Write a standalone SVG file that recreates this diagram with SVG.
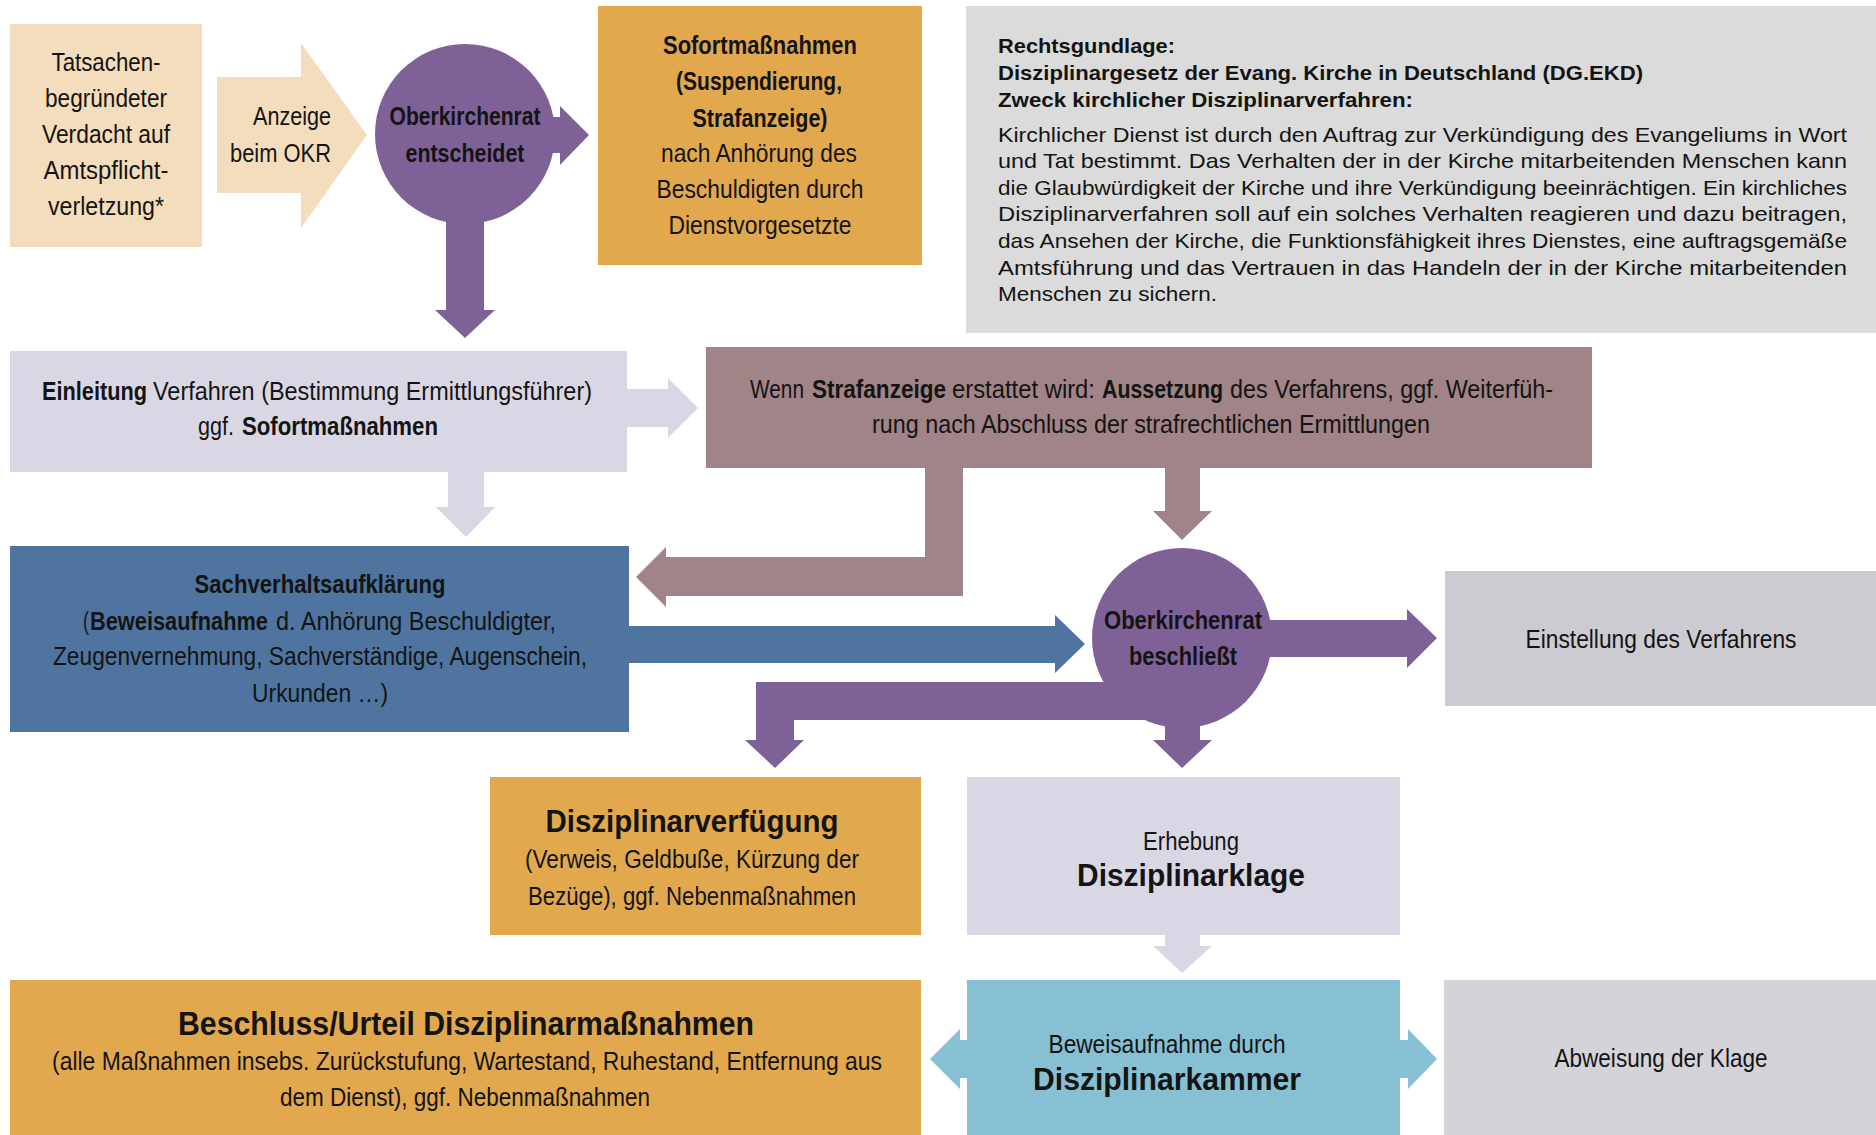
<svg xmlns="http://www.w3.org/2000/svg" width="1876" height="1135" viewBox="0 0 1876 1135">
<style>
text{font-family:"Liberation Sans",Arial,"DejaVu Sans Condensed",sans-serif;fill:#141414;font-size:25px}
.c{text-anchor:middle}
.e{text-anchor:end}
.b{font-weight:bold}
.i{font-size:21px}
.big{font-size:31px;font-weight:bold}
.peach{fill:#F4DDBC}
.purple{fill:#7E6197}
.gold{fill:#E1A84E}
.info{fill:#DADBDA}
.lav{fill:#DAD7E5}
.mauve{fill:#A08487}
.blue{fill:#4F74A0}
.grey1{fill:#CDCBD2}
.grey2{fill:#D5D3DA}
.lblue{fill:#88C0D3}
</style>
<rect width="1876" height="1135" fill="#ffffff"/>

<g id="connectors">
  <polygon class="peach" points="217,77 301,77 301,43 367,135 301,228 301,193 217,193"/>
  <polygon class="purple" points="540,117 560,117 560,106 589,135 560,165 560,153 540,153"/>
  <polygon class="purple" points="446,200 484,200 484,310 495,310 465,338 435,310 446,310"/>
  <polygon class="lav" points="627,389 668,389 668,378 698,408 668,438 668,427 627,427"/>
  <polygon class="lav" points="448,472 484,472 484,507 495,507 466,537 436,507 448,507"/>
  <polygon class="mauve" points="925,468 963,468 963,596 666,596 666,607 636,577 666,547 666,557 925,557"/>
  <polygon class="mauve" points="1165,468 1200,468 1200,511 1212,511 1182,540 1153,511 1165,511"/>
  <polygon class="blue" points="629,626 1055,626 1055,615 1085,644 1055,673 1055,663 629,663"/>
  <polygon class="purple" points="1250,620 1407,620 1407,609 1437,638 1407,668 1407,657 1250,657"/>
  <polygon class="purple" points="1160,682 1160,720 794,720 794,740 804,740 775,768 745,740 756,740 756,682"/>
  <polygon class="purple" points="1165,715 1200,715 1200,740 1212,740 1182,768 1153,740 1165,740"/>
  <polygon class="lav" points="1165,935 1200,935 1200,946 1212,946 1182,973 1153,946 1165,946"/>
  <polygon class="lblue" points="968,1040 960,1040 960,1029 930,1059 960,1089 960,1078 968,1078"/>
  <polygon class="lblue" points="1399,1040 1408,1040 1408,1029 1437,1059 1408,1089 1408,1078 1399,1078"/>
</g>

<g id="verdacht">
  <rect class="peach" x="10" y="24" width="192" height="223"/>
  <text class="c" x="106" y="71" textLength="109" lengthAdjust="spacingAndGlyphs">Tatsachen-</text>
  <text class="c" x="106" y="107" textLength="122" lengthAdjust="spacingAndGlyphs">begründeter</text>
  <text class="c" x="106" y="143" textLength="128" lengthAdjust="spacingAndGlyphs">Verdacht auf</text>
  <text class="c" x="106" y="179" textLength="125" lengthAdjust="spacingAndGlyphs">Amtspflicht-</text>
  <text class="c" x="106" y="215" textLength="116" lengthAdjust="spacingAndGlyphs">verletzung*</text>
</g>

<g id="anzeige">
  <text class="e" x="331" y="125" textLength="78" lengthAdjust="spacingAndGlyphs">Anzeige</text>
  <text class="e" x="331" y="162" textLength="101" lengthAdjust="spacingAndGlyphs">beim OKR</text>
</g>

<g id="okr-entscheidet">
  <circle class="purple" cx="465" cy="134" r="90"/>
  <text class="c b" x="465" y="125" textLength="151" lengthAdjust="spacingAndGlyphs">Oberkirchenrat</text>
  <text class="c b" x="465" y="162" textLength="119" lengthAdjust="spacingAndGlyphs">entscheidet</text>
</g>

<g id="sofortmassnahmen">
  <rect class="gold" x="598" y="6" width="324" height="259"/>
  <text class="c b" x="760" y="54" textLength="194" lengthAdjust="spacingAndGlyphs">Sofortmaßnahmen</text>
  <text class="c b" x="759" y="90" textLength="166" lengthAdjust="spacingAndGlyphs">(Suspendierung,</text>
  <text class="c b" x="760" y="127" textLength="135" lengthAdjust="spacingAndGlyphs">Strafanzeige)</text>
  <text class="c" x="759" y="162" textLength="196" lengthAdjust="spacingAndGlyphs">nach Anhörung des</text>
  <text class="c" x="760" y="198" textLength="207" lengthAdjust="spacingAndGlyphs">Beschuldigten durch</text>
  <text class="c" x="760" y="234" textLength="183" lengthAdjust="spacingAndGlyphs">Dienstvorgesetzte</text>
</g>

<g id="rechtsgrundlage">
  <rect class="info" x="966" y="6" width="910" height="327"/>
  <text class="i b" x="998" y="53" textLength="177" lengthAdjust="spacingAndGlyphs">Rechtsgundlage:</text>
  <text class="i b" x="998" y="80" textLength="645" lengthAdjust="spacingAndGlyphs">Disziplinargesetz der Evang. Kirche in Deutschland (DG.EKD)</text>
  <text class="i b" x="998" y="107" textLength="415" lengthAdjust="spacingAndGlyphs">Zweck kirchlicher Disziplinarverfahren:</text>
  <text class="i" x="998" y="142" textLength="849" lengthAdjust="spacingAndGlyphs">Kirchlicher Dienst ist durch den Auftrag zur Verkündigung des Evangeliums in Wort</text>
  <text class="i" x="998" y="168" textLength="849" lengthAdjust="spacingAndGlyphs">und Tat bestimmt. Das Verhalten der in der Kirche mitarbeitenden Menschen kann</text>
  <text class="i" x="998" y="195" textLength="849" lengthAdjust="spacingAndGlyphs">die Glaubwürdigkeit der Kirche und ihre Verkündigung beeinrächtigen. Ein kirchliches</text>
  <text class="i" x="998" y="221" textLength="849" lengthAdjust="spacingAndGlyphs">Disziplinarverfahren soll auf ein solches Verhalten reagieren und dazu beitragen,</text>
  <text class="i" x="998" y="248" textLength="849" lengthAdjust="spacingAndGlyphs">das Ansehen der Kirche, die Funktionsfähigkeit ihres Dienstes, eine auftragsgemäße</text>
  <text class="i" x="998" y="275" textLength="849" lengthAdjust="spacingAndGlyphs">Amtsführung und das Vertrauen in das Handeln der in der Kirche mitarbeitenden</text>
  <text class="i" x="998" y="301" textLength="219" lengthAdjust="spacingAndGlyphs">Menschen zu sichern.</text>
</g>

<g id="einleitung">
  <rect class="lav" x="10" y="351" width="617" height="121"/>
  <text class="b" x="42" y="400" textLength="105" lengthAdjust="spacingAndGlyphs">Einleitung</text>
  <text x="153" y="400" textLength="439" lengthAdjust="spacingAndGlyphs">Verfahren (Bestimmung Ermittlungsführer)</text>
  <text x="198" y="435" textLength="36" lengthAdjust="spacingAndGlyphs">ggf.</text>
  <text class="b" x="242" y="435" textLength="196" lengthAdjust="spacingAndGlyphs">Sofortmaßnahmen</text>
</g>

<g id="strafanzeige">
  <rect class="mauve" x="706" y="347" width="886" height="121"/>
  <text x="750" y="398" textLength="54" lengthAdjust="spacingAndGlyphs">Wenn</text>
  <text class="b" x="812" y="398" textLength="134" lengthAdjust="spacingAndGlyphs">Strafanzeige</text>
  <text x="952" y="398" textLength="143" lengthAdjust="spacingAndGlyphs">erstattet wird:</text>
  <text class="b" x="1102" y="398" textLength="121" lengthAdjust="spacingAndGlyphs">Aussetzung</text>
  <text x="1230" y="398" textLength="323" lengthAdjust="spacingAndGlyphs">des Verfahrens, ggf. Weiterfüh-</text>
  <text class="c" x="1151" y="433" textLength="558" lengthAdjust="spacingAndGlyphs">rung nach Abschluss der strafrechtlichen Ermittlungen</text>
</g>

<g id="sachverhalt">
  <rect class="blue" x="10" y="546" width="619" height="186"/>
  <text class="c b" x="320" y="593" textLength="251" lengthAdjust="spacingAndGlyphs">Sachverhaltsaufklärung</text>
  <text x="83" y="630" textLength="6" lengthAdjust="spacingAndGlyphs">(</text>
  <text class="b" x="90" y="630" textLength="178" lengthAdjust="spacingAndGlyphs">Beweisaufnahme</text>
  <text x="276" y="630" textLength="280" lengthAdjust="spacingAndGlyphs">d. Anhörung Beschuldigter,</text>
  <text class="c" x="320" y="665" textLength="534" lengthAdjust="spacingAndGlyphs">Zeugenvernehmung, Sachverständige, Augenschein,</text>
  <text class="c" x="320" y="702" textLength="136" lengthAdjust="spacingAndGlyphs">Urkunden …)</text>
</g>

<g id="okr-beschliesst">
  <circle class="purple" cx="1182" cy="638" r="90"/>
  <text class="c b" x="1183" y="629" textLength="158" lengthAdjust="spacingAndGlyphs">Oberkirchenrat</text>
  <text class="c b" x="1183" y="665" textLength="108" lengthAdjust="spacingAndGlyphs">beschließt</text>
</g>

<g id="einstellung">
  <rect class="grey1" x="1445" y="571" width="431" height="135"/>
  <text class="c" x="1661" y="648" textLength="271" lengthAdjust="spacingAndGlyphs">Einstellung des Verfahrens</text>
</g>

<g id="disziplinarverfuegung">
  <rect class="gold" x="490" y="777" width="431" height="158"/>
  <text class="c big" x="692" y="832" textLength="293" lengthAdjust="spacingAndGlyphs">Disziplinarverfügung</text>
  <text class="c" x="692" y="868" textLength="334" lengthAdjust="spacingAndGlyphs">(Verweis, Geldbuße, Kürzung der</text>
  <text class="c" x="692" y="905" textLength="328" lengthAdjust="spacingAndGlyphs">Bezüge), ggf. Nebenmaßnahmen</text>
</g>

<g id="disziplinarklage">
  <rect class="lav" x="967" y="777" width="433" height="158"/>
  <text class="c" x="1191" y="850" textLength="96" lengthAdjust="spacingAndGlyphs">Erhebung</text>
  <text class="c big" x="1191" y="886" textLength="228" lengthAdjust="spacingAndGlyphs">Disziplinarklage</text>
</g>

<g id="disziplinarkammer">
  <rect class="lblue" x="967" y="980" width="433" height="155"/>
  <text class="c" x="1167" y="1053" textLength="237" lengthAdjust="spacingAndGlyphs">Beweisaufnahme durch</text>
  <text class="c big" x="1167" y="1090" textLength="268" lengthAdjust="spacingAndGlyphs">Disziplinarkammer</text>
</g>

<g id="abweisung">
  <rect class="grey2" x="1444" y="980" width="432" height="155"/>
  <text class="c" x="1661" y="1067" textLength="213" lengthAdjust="spacingAndGlyphs">Abweisung der Klage</text>
</g>

<g id="beschluss">
  <rect class="gold" x="10" y="980" width="911" height="155"/>
  <text class="c b" x="466" y="1035" style="font-size:34px" textLength="576" lengthAdjust="spacingAndGlyphs">Beschluss/Urteil Disziplinarmaßnahmen</text>
  <text class="c" x="467" y="1070" textLength="830" lengthAdjust="spacingAndGlyphs">(alle Maßnahmen insebs. Zurückstufung, Wartestand, Ruhestand, Entfernung aus</text>
  <text class="c" x="465" y="1106" textLength="370" lengthAdjust="spacingAndGlyphs">dem Dienst), ggf. Nebenmaßnahmen</text>
</g>
</svg>
